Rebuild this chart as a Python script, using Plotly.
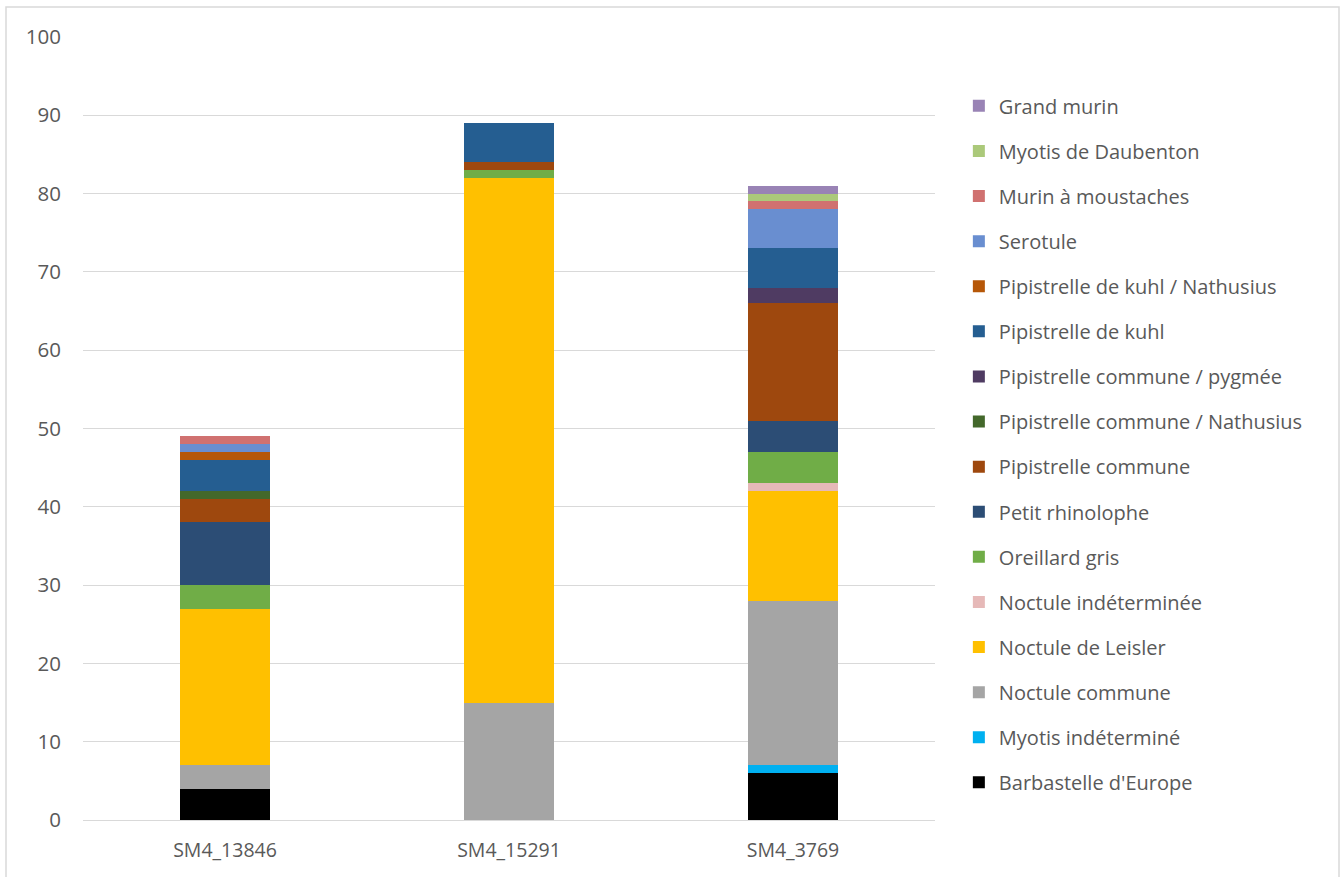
import plotly.graph_objects as go

categories = ["SM4_13846", "SM4_15291", "SM4_3769"]

species = [
    "Barbastelle d'Europe", "Myotis indéterminé", "Noctule commune", "Noctule de Leisler",
    "Noctule indéterminée", "Oreillard gris", "Petit rhinolophe", "Pipistrelle commune",
    "Pipistrelle commune / Nathusius", "Pipistrelle commune / pygmée", "Pipistrelle de kuhl",
    "Pipistrelle de kuhl / Nathusius", "Serotule", "Murin à moustaches", "Myotis de Daubenton",
    "Grand murin",
]

barbastelle = [4, 0, 6]
myotis_indet = [0, 0, 1]
noctule_commune = [3, 15, 21]
noctule_leisler = [20, 67, 14]
noctule_indet = [0, 0, 1]
oreillard_gris = [3, 1, 4]
petit_rhino = [8, 0, 4]
pip_commune = [3, 1, 15]
pip_commune_nath = [1, 0, 0]
pip_commune_pyg = [0, 0, 2]
pip_kuhl = [4, 5, 5]
pip_kuhl_nath = [1, 0, 0]
serotule = [1, 0, 5]
murin_moustaches = [1, 0, 1]
daubenton = [0, 0, 1]
grand_murin = [0, 0, 1]

values = [barbastelle, myotis_indet, noctule_commune, noctule_leisler, noctule_indet,
          oreillard_gris, petit_rhino, pip_commune, pip_commune_nath, pip_commune_pyg,
          pip_kuhl, pip_kuhl_nath, serotule, murin_moustaches, daubenton, grand_murin]

colors = ["#000000", "#00B0F0", "#A5A5A5", "#FFC000", "#E6B9B8", "#70AD47", "#2C4D75",
          "#9E480E", "#43682B", "#4F3B62", "#255E91", "#B65708", "#698ED0", "#D07170",
          "#ABC97A", "#9983B5"]

y_ticks = [0, 10, 20, 30, 40, 50, 60, 70, 80, 90, 100]

fig = go.Figure()
n = len(species)
for i, (name, vals, col) in enumerate(zip(species, values, colors)):
    fig.add_trace(go.Bar(
        x=categories, y=vals, name=name, legendgroup=name, legendrank=100 + n - i,
        marker=dict(color=col, line=dict(width=0)),
    ))

font_family = "Open Sans, Liberation Sans, sans-serif"
fig.update_layout(
    barmode="stack",
    bargap=0.685,
    width=1341, height=877,
    margin=dict(l=83, r=406, t=37, b=57),
    paper_bgcolor="white", plot_bgcolor="white",
    font=dict(family=font_family, size=19, color="#595959"),
    yaxis=dict(range=[0, 100], tickvals=y_ticks, showgrid=True, gridcolor="#D9D9D9",
               gridwidth=1, zeroline=False, showline=False, ticks="",
               ticklabelstandoff=21, tickfont=dict(size=20.5, color="#595959")),
    xaxis=dict(showline=True, linecolor="#D9D9D9", linewidth=1, ticks="",
               ticklabelstandoff=13, tickfont=dict(size=19.5, color="#595959")),
    legend=dict(x=1.028, xanchor="left", y=0.937, yanchor="top",
                traceorder="grouped", tracegroupgap=16.1,
                font=dict(size=20, color="#595959", family=font_family),
                itemwidth=30, bgcolor="rgba(0,0,0,0)"),
    showlegend=True,
)
fig.add_shape(type="rect", xref="paper", yref="paper",
              x0=(6 - 83) / 852, x1=(1339 - 83) / 852, y0=-(890 - 820) / 783, y1=(820 - 7) / 783,
              line=dict(color="#D9D9D9", width=1.5), fillcolor="rgba(0,0,0,0)", layer="below")
fig.write_html("out.html")
